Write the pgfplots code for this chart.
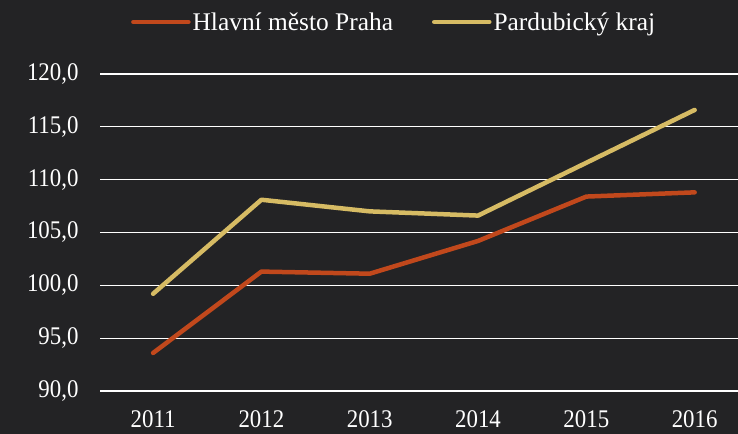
\documentclass[border=0pt]{standalone}
\usepackage{fontspec}
\setmainfont{Liberation Serif}
\newfontfamily\condfont[FakeStretch=0.9]{Liberation Serif}
\usepackage{pgfplots}
\pgfplotsset{compat=1.18}
\definecolor{bg}{RGB}{35,35,37}
\definecolor{praha}{RGB}{193,72,28}
\definecolor{pardu}{RGB}{214,187,100}
\begin{document}
\begin{tikzpicture}
\fill[bg] (0,0) rectangle (738bp,434bp);
\useasboundingbox (0,0) rectangle (738bp,434bp);
\begin{axis}[
  at={(100bp,43bp)}, anchor=south west,
  scale only axis, width=638bp, height=317bp,
  xmin=2010.51, xmax=2016.4, ymin=90, ymax=120,
  ytick={90,95,...,120},
  xtick={2011,2012,2013,2014,2015,2016},
  xticklabels={2011,2012,2013,2014,2015,2016},
  axis line style={draw=none},
  major tick length=0pt,
  ymajorgrids,
  major grid style={white, line width=1.3bp},
  tick label style={white, font=\condfont\fontsize{25.5}{30}\selectfont},
  /pgf/number format/assume math mode=true,
  yticklabel style={/pgf/number format/fixed, /pgf/number format/fixed zerofill,
    /pgf/number format/precision=1, /pgf/number format/use comma,
    anchor=east, xshift=-18bp},
  xticklabel style={anchor=base, yshift=-37bp},
  legend columns=2,
  legend style={draw=none, fill=none, text=white, font=\fontsize{25.5}{30}\selectfont,
    at={(0.461,1.164)}, anchor=center,
    nodes={inner sep=2bp},
    /tikz/every even column/.append style={column sep=37bp}},
  legend image code/.code={\draw[#1, line cap=round] (0bp,0bp) -- (55bp,0bp);},
]
\addplot[praha, line width=4.5bp, line cap=round, line join=round] coordinates {
 (2011,93.6) (2012,101.3) (2013,101.1) (2014,104.2) (2015,108.4) (2016,108.8)};
\addlegendentry{Hlavní město Praha}
\addplot[pardu, line width=4.5bp, line cap=round, line join=round] coordinates {
 (2011,99.2) (2012,108.1) (2013,107.0) (2014,106.6) (2015,111.6) (2016,116.6)};
\addlegendentry{Pardubický kraj}
\end{axis}
\end{tikzpicture}
\end{document}
